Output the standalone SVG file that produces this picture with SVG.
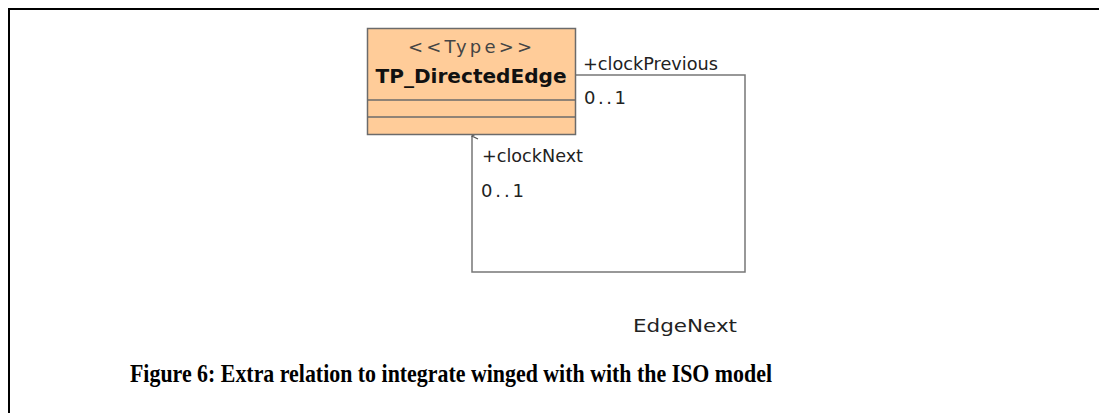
<svg xmlns="http://www.w3.org/2000/svg" width="1099" height="413" viewBox="0 0 1099 413">
<style>
.lbl{font-family:"DejaVu Sans",sans-serif;font-size:18px;fill:#222}
.cls{fill:#FFCC99;stroke:#6b6b6b;stroke-width:1.5}
.sep{stroke:#6b6b6b;stroke-width:1.5}
.con{fill:none;stroke:#777;stroke-width:1.5}
</style>
<defs>
<marker id="open" markerWidth="10" markerHeight="10" refX="5" refY="1" orient="auto" markerUnits="userSpaceOnUse">
<path d="M2,7 L5,1 L8,7" fill="none" stroke="#555" stroke-width="1.2"/>
</marker>
</defs>
<rect x="0" y="0" width="1099" height="413" fill="#fff"/>
<path d="M9,420 L9,9 L1110,9" fill="none" stroke="#000" stroke-width="2"/>
<g id="connectors">
<path class="con" d="M576,75 L745,75 L745,272 L472,272 L472,136" marker-end="url(#open)"/>
</g>
<g id="TP_DirectedEdge">
<rect class="cls" x="367.5" y="28.5" width="208" height="106"/>
<line class="sep" x1="367.5" y1="100" x2="575.5" y2="100"/>
<line class="sep" x1="367.5" y1="117" x2="575.5" y2="117"/>
<text class="lbl" x="470" y="53" text-anchor="middle" style="fill:#444" textLength="124">&lt;&lt;Type&gt;&gt;</text>
<text class="lbl" x="471" y="83" text-anchor="middle" font-weight="bold" style="fill:#111;font-size:20px" textLength="191" lengthAdjust="spacingAndGlyphs">TP_DirectedEdge</text>
</g>
<g id="labels">
<text class="lbl" x="583" y="70" textLength="135" lengthAdjust="spacingAndGlyphs">+clockPrevious</text>
<text class="lbl" x="584" y="104" textLength="42">0..1</text>
<text class="lbl" x="482" y="162" textLength="101" lengthAdjust="spacingAndGlyphs">+clockNext</text>
<text class="lbl" x="481" y="197" textLength="43">0..1</text>
<text class="lbl" x="633" y="332" textLength="104" lengthAdjust="spacingAndGlyphs">EdgeNext</text>
</g>
<text x="451" y="382" text-anchor="middle" font-family="'Liberation Serif',serif" font-weight="bold" font-size="26" fill="#000" textLength="642" lengthAdjust="spacingAndGlyphs">Figure 6: Extra relation to integrate winged with with the ISO model</text>
</svg>
